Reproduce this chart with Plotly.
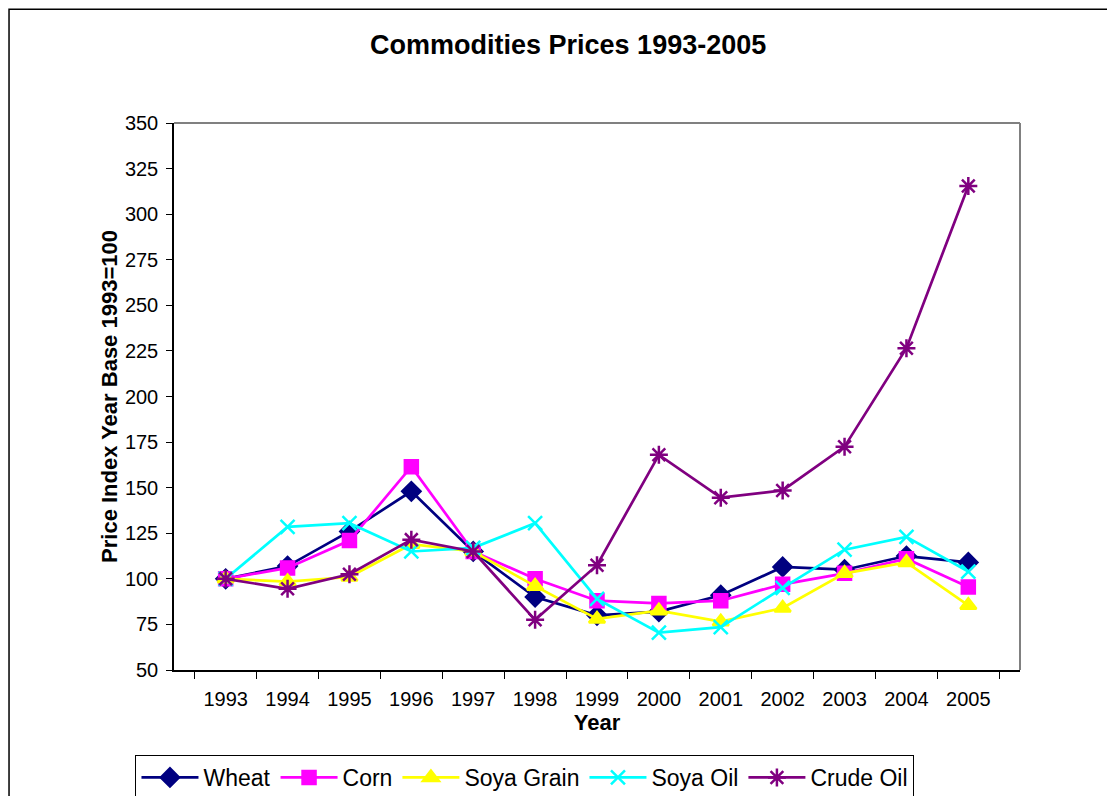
import plotly.graph_objects as go

years = ["1993", "1994", "1995", "1996", "1997", "1998", "1999", "2000", "2001", "2002", "2003", "2004", "2005"]
wheat = [100, 107, 126, 148, 115, 90, 80, 82, 91, 106.5, 105, 112.5, 109]
corn = [100, 106, 121, 161.5, 115, 100, 88, 86.5, 88, 97, 103, 111, 95.5]
soya_grain = [100, 98.5, 101, 119, 115, 96, 78, 82.5, 76.5, 84, 103, 109, 85.5]
soya_oil = [100, 128.5, 130.5, 115, 117, 130.5, 89, 70.5, 73.5, 95, 116, 123, 104]
crude_oil = [100, 94.5, 102.5, 121.5, 115, 77.5, 107.5, 168, 144.5, 148.5, 172.5, 226.5, 315.5]

series = [
    ("Wheat", wheat, "#000080", "diamond", 14),
    ("Corn", corn, "#FF00FF", "square", 13),
    ("Soya Grain", soya_grain, "#FFFF00", "triangle-up", 14),
    ("Soya Oil", soya_oil, "#00FFFF", "x-thin-open", 14),
    ("Crude Oil", crude_oil, "#800080", "asterisk-open", 15),
]

fig = go.Figure()
for name, vals, color, sym, size in series:
    fig.add_trace(go.Scatter(
        x=years, y=vals, name=name, mode="lines+markers",
        line=dict(color=color, width=2.7),
        marker=dict(symbol=sym, size=size, color=color,
                    line=dict(color=color, width=2.5)),
    ))

font = "Arial, Liberation Sans, sans-serif"
fig.update_layout(
    width=1107, height=788,
    margin=dict(l=166, r=95, t=115, b=126),
    paper_bgcolor="white", plot_bgcolor="white",
    font=dict(family=font, size=20, color="black"),
    title=dict(text="<b>Commodities Prices 1993-2005</b>", x=0.506, xanchor="center",
               y=0.953, yanchor="middle", font=dict(size=27, family=font)),
    showlegend=True,
    legend=dict(orientation="h", xref="container", yref="container",
                x=0.467, xanchor="center", y=0.052, yanchor="top",
                bordercolor="black", borderwidth=1, font=dict(size=23, family=font),
                itemwidth=57, tracegroupgap=0, bgcolor="white"),
)
fig.update_xaxes(
    type="category", tickson="boundaries", ticks="outside", ticklen=7,
    tickcolor="black", showline=True, linecolor="black", linewidth=1.5,
    mirror=False, showgrid=False, tickfont=dict(size=20), ticklabelstandoff=10,
    title=dict(text="<b>Year</b>", font=dict(size=22), standoff=5),
)
fig.update_yaxes(
    range=[50, 350], dtick=25, tick0=50, ticks="outside", ticklen=6,
    tickcolor="black", showline=True, linecolor="black", linewidth=1.5,
    showgrid=False, zeroline=False, tickfont=dict(size=20), ticklabelstandoff=4,
    title=dict(text="<b>Price Index Year Base 1993=100</b>", font=dict(size=22), standoff=1),
)
# plot area border (grey top/right)
fig.add_shape(type="line", xref="paper", yref="paper", x0=0, x1=1, y0=1, y1=1,
              line=dict(color="#808080", width=2))
fig.add_shape(type="line", xref="paper", yref="paper", x0=1, x1=1, y0=0, y1=1,
              line=dict(color="#808080", width=2))
# outer chart border
fig.add_shape(type="rect", xref="paper", yref="paper", x0=-0.195, x1=1.2, y0=-0.3, y1=1.208,
              line=dict(color="black", width=1.5), layer="below")

fig.write_html("out.html")
